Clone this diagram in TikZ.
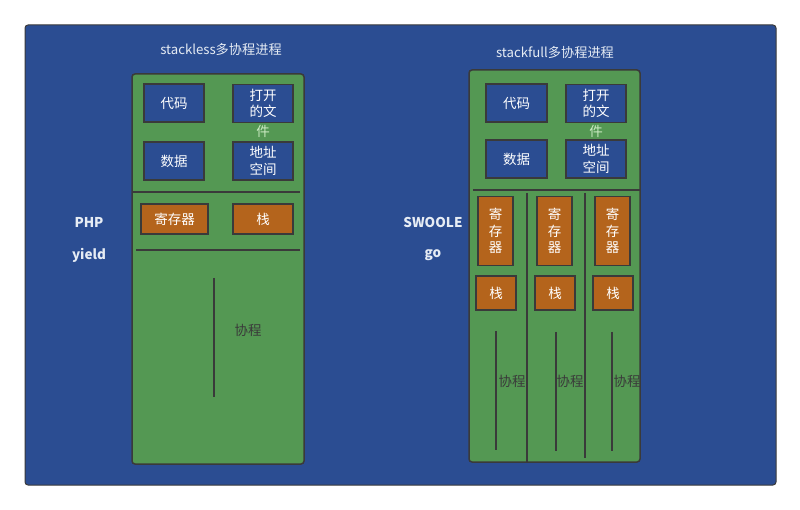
\documentclass[tikz,border=0pt]{standalone}
\usepackage{fontspec}
\setmainfont{Noto Sans CJK SC}
\definecolor{bgblue}{HTML}{2B4D92}
\definecolor{procgreen}{HTML}{549853}
\definecolor{regorange}{HTML}{B4641C}
\definecolor{linedark}{HTML}{3A3A3A}
\definecolor{paletext}{HTML}{E6ECF4}
\definecolor{overflow}{HTML}{CDEBC4}

\begin{document}
\begin{tikzpicture}[x=1pt,y=-1pt]
      \tikzstyle{proc}=[draw=linedark,line width=1.5pt,fill=procgreen,rounded corners=3pt]
      \tikzstyle{part}=[draw=linedark,line width=1.3pt,fill=bgblue,text=white,minimum width=60pt,minimum height=38pt,inner sep=0pt,align=center,font=\fontsize{13.5}{16.5}\selectfont]
      \tikzstyle{reg}=[part,fill=regorange]
      \tikzstyle{sep}=[draw=linedark,line width=1.6pt]
      \tikzstyle{title}=[text=paletext,font=\fontsize{13.2}{15}\selectfont]
      \tikzstyle{tag}=[text=paletext,font=\fontsize{13.5}{15}\selectfont\bfseries]
      \tikzstyle{co}=[text=linedark,font=\fontsize{13.5}{15}\selectfont]
      \tikzstyle{spill}=[overflow,font=\fontsize{13.5}{15}\selectfont,yshift=1.5pt]
      \useasboundingbox (0,0) rectangle (800,510);
      \draw[fill=bgblue,draw=linedark,line width=1pt,rounded corners=3pt] (25,25) rectangle (776,485);
      % stackless
      \node[title] (title1) at (221,49) {stackless多协程进程};
      \draw[proc] (132,74) rectangle (304,464);
      \node[part] (code1) at (174,103) {代码};
      \node[part,label={[spill]below:件}] (file1) at (263,103.5) {打开\\的文};
      \node[part] (data1) at (174,161) {数据};
      \node[part] (addr1) at (263,161) {地址\\空间};
      \draw[sep] (133,192) -- (300,192);
      \node[reg,minimum width=67pt,minimum height=30pt] (regs1) at (174.5,219) {寄存器};
      \node[reg,minimum height=30pt] (stack1) at (263,219) {栈};
      \draw[sep] (136,250) -- (300,250);
      \draw[sep] (214,278) -- (214,397);
      \node[co] (co1) at (248,330) {协程};
      \node[tag] (php) at (89,222) {PHP};
      \node[tag] (yield) at (89,255) {yield};
      % stackfull
      \node[title] (title2) at (555,52) {stackfull多协程进程};
      \draw[proc] (469,70) rectangle (640,462);
      \node[part,minimum width=61pt] (code2) at (516.5,103) {代码};
      \node[part,label={[spill]below:件}] (file2) at (596,103.5) {打开\\的文};
      \node[part,minimum width=61pt] (data2) at (516.5,159) {数据};
      \node[part] (addr2) at (596,159) {地址\\空间};
      \draw[sep] (473,190) -- (640,190);
      \draw[sep] (527,193) -- (527,462);
      \draw[sep] (585,193) -- (585,458);
      \foreach \i/\x/\sx in {1/495.5/496,2/554.5/555,3/612.5/613}{
        \node[reg,minimum width=35pt,minimum height=69pt] (reg\i) at (\x,231) {寄\\存\\器};
        \node[reg,minimum width=40pt,minimum height=34pt] (stk\i) at (\sx,293) {栈};
      }
      \draw[sep] (496,331) -- (496,450);
      \draw[sep] (556,332) -- (556,451);
      \draw[sep] (612,332) -- (612,451);
      \node[co] (co2) at (512,381) {协程};
      \node[co] (co3) at (570,381) {协程};
      \node[co] (co4) at (627,381) {协程};
      \node[tag] (swoole) at (433,222) {SWOOLE};
      \node[tag] (go) at (433,255) {go};
\end{tikzpicture}
\end{document}
